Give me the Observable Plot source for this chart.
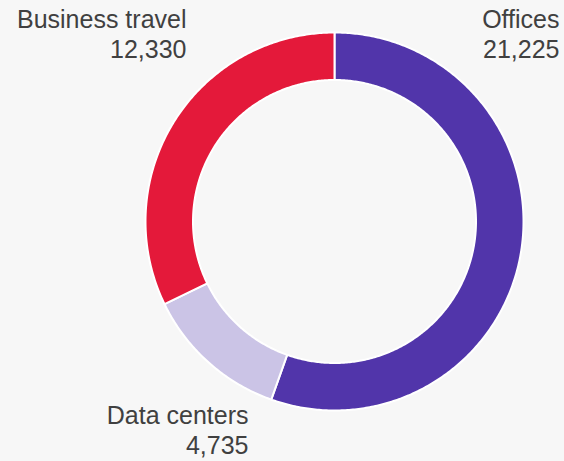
<!DOCTYPE html>
<html>
<head>
<meta charset="utf-8">
<script src="https://cdn.jsdelivr.net/npm/d3@7"></script>
<script src="https://cdn.jsdelivr.net/npm/@observablehq/plot@0.6"></script>
<style>
  html, body { margin: 0; padding: 0; background: #f7f7f7; }
  #chart svg { display: block; background: #f7f7f7; }
</style>
</head>
<body>
<div id="chart"></div>
<script>
// ---- data ----
const categories = ["Offices", "Data centers", "Business travel"];
const values = [21225, 4735, 12330];
const valueLabels = ["21,225", "4,735", "12,330"];
const colors = ["#5135aa", "#cbc4e6", "#e4193a"];

// ---- layout ----
const W = 564, H = 461;
const outerRatio = 189 / 188;
const innerRatio = 141.5 / 188;

// build donut slice polygons in unit space (y down, 0 angle at 12 o'clock, clockwise)
const arcs = d3.pie().sort(null).value(d => d)(values);
function ring(a0, a1, r0, r1) {
  const n = Math.max(2, Math.ceil((a1 - a0) / 0.01));
  const pts = [];
  for (let i = 0; i <= n; i++) {
    const a = a0 + (a1 - a0) * i / n;
    pts.push([r1 * Math.sin(a), -r1 * Math.cos(a)]);
  }
  for (let i = n; i >= 0; i--) {
    const a = a0 + (a1 - a0) * i / n;
    pts.push([r0 * Math.sin(a), -r0 * Math.cos(a)]);
  }
  pts.push(pts[0]);
  return pts;
}
const slices = {
  type: "FeatureCollection",
  features: arcs.map((a, i) => ({
    type: "Feature",
    properties: {category: categories[i]},
    geometry: {type: "Polygon", coordinates: [ring(a.startAngle, a.endAngle, innerRatio, outerRatio)]}
  }))
};

// label anchors (unit space of the donut, right-aligned, baseline of last line)
const cx = 334, cy = 221, R = 188;
const px = (x) => (x - cx) / R, py = (y) => (y - cy) / R;
const labelPos = {
  "Offices": [px(559), py(57)],
  "Data centers": [px(248), py(453)],
  "Business travel": [px(186), py(57)]
};
const labelData = categories.map((c, i) => ({
  text: c + "\n" + valueLabels[i],
  x: labelPos[c][0],
  y: labelPos[c][1]
}));

const chart = Plot.plot({
  width: W,
  height: H,
  marginLeft: cx - R,
  marginRight: W - cx - R,
  marginTop: cy - R,
  marginBottom: H - cy - R,
  style: {background: "#f7f7f7", fontFamily: "'Liberation Sans', Arial, sans-serif", overflow: "visible"},
  projection: {type: "identity", clip: false, domain: {type: "MultiPoint", coordinates: [[-1, -1], [1, 1]]}},
  color: {domain: categories, range: colors},
  marks: [
    Plot.geo(slices, {fill: d => d.properties.category, stroke: "white", strokeWidth: 2}),
    Plot.text(labelData, {
      x: "x", y: "y", text: "text",
      textAnchor: "end", lineAnchor: "bottom",
      fontSize: 25, lineHeight: 1.17, fill: "#404040"
    })
  ]
});
document.getElementById("chart").appendChild(chart);
</script>
</body>
</html>
